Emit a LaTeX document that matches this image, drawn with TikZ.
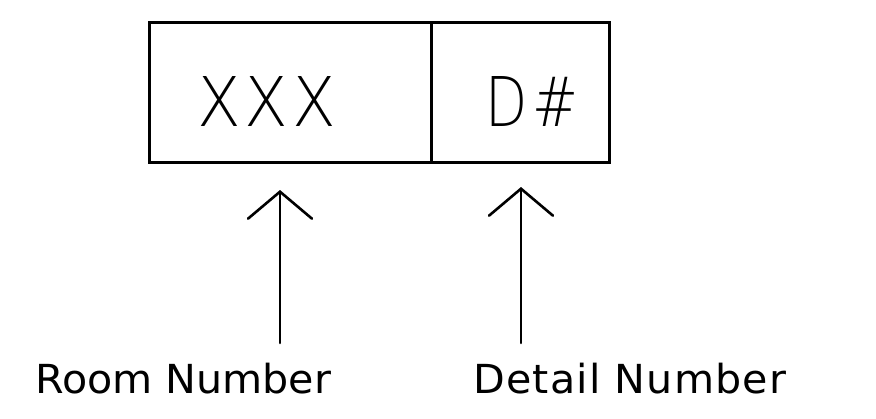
\documentclass[tikz,border=0pt]{standalone}
\usepackage{fontspec}
\usepackage{tikz}
\usetikzlibrary{arrows.meta, positioning}
\newfontfamily\cadfont[FakeStretch=1.03]{DejaVu Sans}
\newfontfamily\roomfont[FakeStretch=0.93, LetterSpace=6]{DejaVu Sans ExtraLight}
\newfontfamily\detailfont[FakeStretch=0.8, LetterSpace=8]{DejaVu Sans ExtraLight}
\tikzset{
  cell/.style={rectangle, draw=black, line width=2.6pt, inner sep=0pt,
    minimum height=140pt, anchor=north west},
  boxtext/.style={inner sep=0pt, anchor=base west},
  labeltext/.style={font=\cadfont\fontsize{40}{40}\selectfont, inner sep=0pt, anchor=base west},
  pointer/.style={-{Straight Barb[length=27pt, width=64pt, line cap=round]},
    line width=2.6pt, line cap=round, color=black}
}
\begin{document}
\begin{tikzpicture}[x=1pt, y=-1pt]
  \useasboundingbox (0,0) rectangle (876,418);

  % Tag box
  \node[cell, minimum width=282pt] (roomcell) at (148,21) {};
  \node[cell, minimum width=178pt] (detailcell) at (430,21) {};
  \node[boxtext, font=\roomfont\fontsize{68.6}{70}\selectfont] (roomtag) at (197,126) {XXX};
  \node[boxtext, font=\detailfont\fontsize{68.6}{70}\selectfont] (detailtag) at (485,126) {D\#};

  % Labels
  \node[labeltext] (roomlabel) at (35,393) {Room Number};
  \node[labeltext] (detaillabel) at (473,393) {\addfontfeature{LetterSpace=3}Detail Number};

  % Pointers
  \coordinate (roomtail) at (280,343);
  \coordinate (roomtip) at (280,190);
  \coordinate (detailtail) at (521,343);
  \coordinate (detailtip) at (521,187);
  \draw[pointer] (roomtail) -- (roomtip);
  \draw[pointer] (detailtail) -- (detailtip);
\end{tikzpicture}
\end{document}
